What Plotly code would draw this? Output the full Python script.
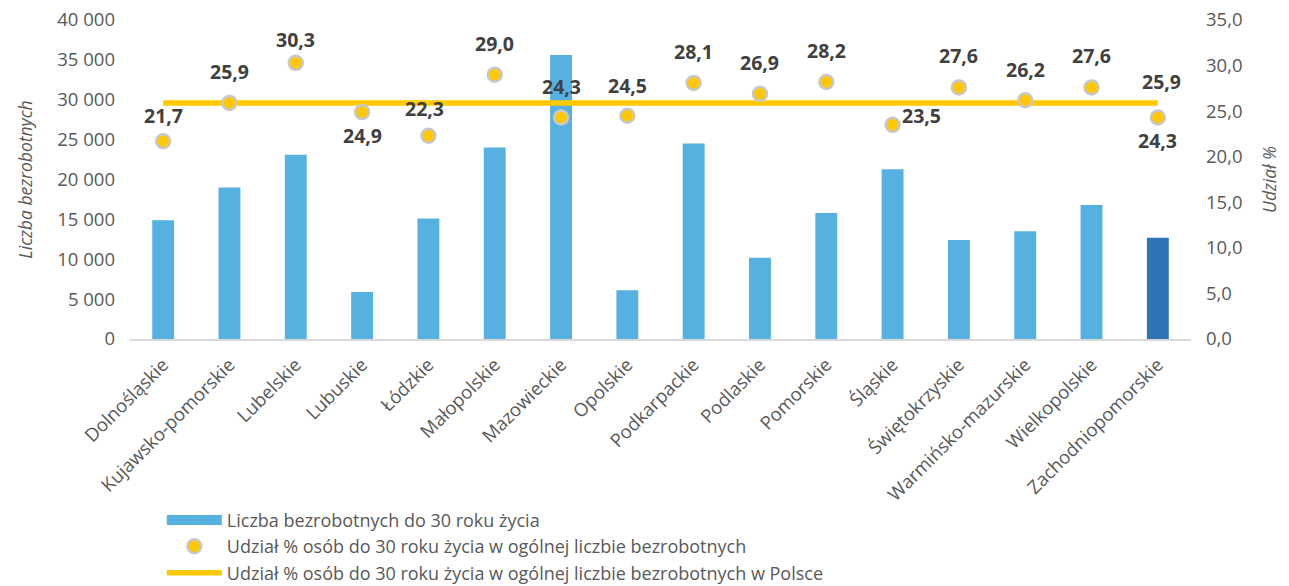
import plotly.graph_objects as go

regions = ["Dolnośląskie", "Kujawsko-pomorskie", "Lubelskie", "Lubuskie", "Łódzkie",
           "Małopolskie", "Mazowieckie", "Opolskie", "Podkarpackie", "Podlaskie",
           "Pomorskie", "Śląskie", "Świętokrzyskie", "Warmińsko-mazurskie",
           "Wielkopolskie", "Zachodniopomorskie"]
unemployed_u30 = [14900, 19000, 23100, 5900, 15100, 24000, 35600, 6100, 24500, 10200,
                  15800, 21300, 12400, 13500, 16800, 12700]
share_u30 = [21.7, 25.9, 30.3, 24.9, 22.3, 29.0, 24.3, 24.5, 28.1, 26.9,
             28.2, 23.5, 27.6, 26.2, 27.6, 24.3]
share_poland = 25.9

name_bar = "Liczba bezrobotnych do 30 roku życia"
name_dot = "Udział % osób do 30 roku życia w ogólnej liczbie bezrobotnych"
name_line = "Udział % osób do 30 roku życia w ogólnej liczbie bezrobotnych w Polsce"

FONT = "Open Sans"
GREY = "#595959"
LBL = "#404040"
BLUE = "#56B1E0"

bar_colors = [BLUE] * (len(regions) - 1) + ["#2E74B5"]

# label offsets (pixels) per point: (xshift, yshift)
label_shift = [(0, 26), (0, 31), (0, 23), (0, -23), (-4, 27), (0, 31), (0, 31), (0, 30),
               (0, 31), (0, 31), (0, 31), (29, 9), (0, 32), (0, 31), (0, 32), (0, -23)]

fig = go.Figure()
fig.add_trace(go.Bar(x=regions, y=unemployed_u30, name=name_bar, marker_color=bar_colors,
                     marker_line_width=0, width=0.33, yaxis="y", showlegend=False))
# legend swatch for the bars (wide rectangle, as in the original)
fig.add_trace(go.Scatter(x=[None], y=[None], name=name_bar, mode="lines",
                         line=dict(color=BLUE, width=11), legendrank=1))
fig.add_trace(go.Scatter(x=[regions[0], regions[-1]], y=[share_poland, share_poland], name=name_line,
                         mode="lines", yaxis="y2", line=dict(color="#FFC800", width=5.5), legendrank=3))
fig.add_trace(go.Scatter(x=regions, y=share_u30, name=name_dot, mode="markers", yaxis="y2",
                         marker=dict(color="#FFC800", size=14, line=dict(color="#C8C8C8", width=2.5)),
                         legendrank=2))

def fmt(v):
    return f"{v:.1f}".replace(".", ",")

for r, v, (dx, dy) in zip(regions, share_u30, label_shift):
    fig.add_annotation(x=r, y=v, xref="x", yref="y2", text=f"<b>{fmt(v)}</b>", showarrow=False,
                       xshift=dx, yshift=dy, font=dict(family=FONT, size=19.5, color=LBL))
fig.add_annotation(x=regions[-1], y=share_poland, xref="x", yref="y2", text=f"<b>{fmt(share_poland)}</b>",
                   showarrow=False, xshift=4, yshift=21, font=dict(family=FONT, size=19.5, color=LBL))

fig.update_layout(
    width=1289, height=586,
    margin=dict(l=130, r=98, t=20, b=247, autoexpand=False),
    paper_bgcolor="white", plot_bgcolor="white",
    separators=", ",
    font=dict(family=FONT, size=16, color=GREY),
    xaxis=dict(tickangle=-45, showgrid=False, showline=True, linecolor="#D9D9D9", linewidth=1.5,
               range=[-0.5, len(regions) - 0.5],
               ticks="", tickfont=dict(size=18.5, color=GREY), automargin=False, ticklabelstandoff=6),
    yaxis=dict(range=[0, 40000], dtick=5000, tickformat=",d", showgrid=False, zeroline=False,
               ticks="", tickfont=dict(size=18.5, color=GREY), automargin=False, ticklabelstandoff=14,
               title=dict(text="<i>Liczba bezrobotnych</i>", font=dict(size=17.5, color=GREY), standoff=20)),
    yaxis2=dict(range=[0, 35], dtick=5, tickformat=".1f", overlaying="y", side="right",
                showgrid=False, zeroline=False, ticks="", tickfont=dict(size=18.5, color=GREY),
                automargin=False, ticklabelstandoff=14,
                title=dict(text="<i>Udział %</i>", font=dict(size=17.5, color=GREY), standoff=22)),
    legend=dict(x=0.03, y=-0.51, xanchor="left", yanchor="top",
                orientation="v", font=dict(size=18, color=GREY), traceorder="normal",
                tracegroupgap=0, itemwidth=55, bgcolor="rgba(0,0,0,0)", borderwidth=0),
    showlegend=True,
)

fig.write_html("out.html", config={"displayModeBar": False},
               post_script="document.body.style.margin='0';document.body.style.overflow='hidden';")
